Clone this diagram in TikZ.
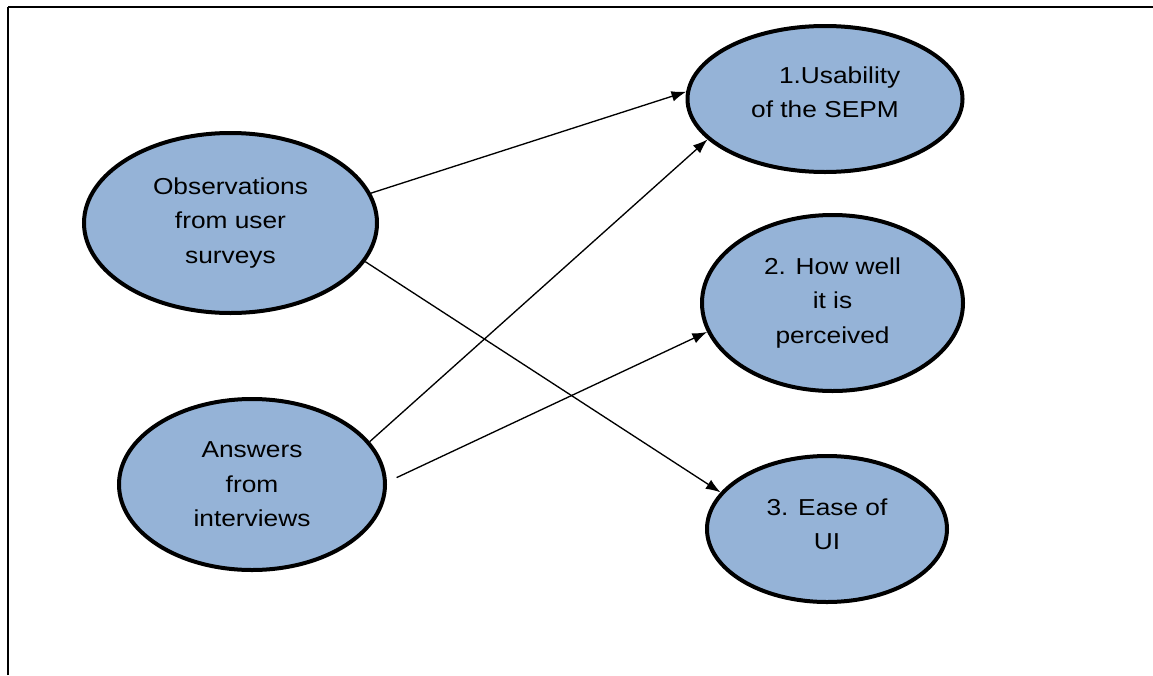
\documentclass[tikz,border=0pt]{standalone}
\usepackage{fontspec}
\newfontfamily\diagfont[FakeStretch=1.14]{Liberation Sans}
\usetikzlibrary{shapes.geometric,arrows.meta}
\definecolor{ellfill}{HTML}{95B3D7}
\newcommand{\liftlines}[2]{\raisebox{#1}[\height][\depth]{\begin{tabular}{@{}c@{}}#2\end{tabular}}}
\begin{document}
\begin{tikzpicture}[x=0.75pt,y=-0.75pt,
  ell/.style 2 args={ellipse, draw=black, line width=3pt, fill=ellfill, inner sep=0pt,
    minimum width=#1*0.75pt, minimum height=#2*0.75pt, align=center,
    font=\diagfont\fontsize{17.3}{26}\selectfont},
  conn/.style={line width=1pt, -{Latex[length=11pt,width=8pt]}}]
\useasboundingbox (0,0) rectangle (1153,675);
\coordinate (fl) at (8,675);
\coordinate (ft) at (8,7);
\coordinate (fr) at (1153,7);
\draw[line width=1.2pt] (fl) -- (ft);
\draw[line width=2pt] (ft) -- (fr);

\node[ell={293}{180}] (obs) at (230.5,223) {Observations\\from user\\surveys};
\node[ell={266}{171}] (ans) at (252,484.5) {Answers\\from\\interviews};
\node[ell={275}{146}] (use) at (825,99) {\liftlines{4pt}{\hspace*{22pt}1.Usability\\of the SEPM}};
\node[ell={261}{176}] (how) at (832.5,303) {2. How well\\it is\\perceived};
\node[ell={240}{146}] (ease) at (827,529) {\liftlines{2.5pt}{3. Ease of\\UI}};

\draw[conn] (obs.12) -- (use.177);
\draw[conn] (obs.-16) -- (ease.161);
\draw[conn] (ans.20) -- (use.-161);
\draw[conn, shorten <=8pt] (ans.1) -- (how.193);
\end{tikzpicture}
\end{document}
